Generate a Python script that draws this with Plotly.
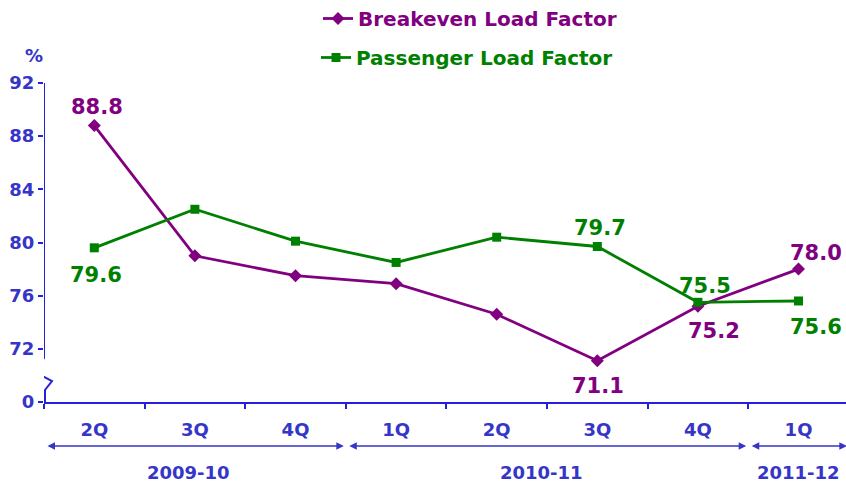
import plotly.graph_objects as go

# ---- data ----
quarters = ["2Q", "3Q", "4Q", "1Q", "2Q", "3Q", "4Q", "1Q"]
fiscal_years = ["2009-10", "2010-11", "2011-12"]
year_spans = [(0, 2), (3, 6), (7, 7)]  # first and last quarter index of each year
breakeven_lf = [88.8, 79.0, 77.5, 76.9, 74.6, 71.1, 75.2, 78.0]
passenger_lf = [79.6, 82.5, 80.1, 78.5, 80.4, 79.7, 75.5, 75.6]
y_tick_vals = [68, 72, 76, 80, 84, 88, 92]
y_tick_text = ["0", "72", "76", "80", "84", "88", "92"]

# labelled points: (index, xshift, yshift)
breakeven_labels = [(0, 3, 19), (5, 1, -25), (6, 16, -25), (7, 17, 16)]
passenger_labels = [(0, 2, -27), (5, 3, 18), (6, 7, 16), (7, 17, -26)]

PURPLE = "#800080"
GREEN = "#008000"
BLUE_TXT = "#3535C8"
BLUE_LINE = "#2222DD"
FONT = "DejaVu Sans"

PLOT_L, PLOT_T, PLOT_W, PLOT_H = 44, 83, 802, 319

x = list(range(len(quarters)))

fig = go.Figure()
fig.add_trace(go.Scatter(
    x=x, y=breakeven_lf, mode="lines+markers", name="Breakeven Load Factor",
    line=dict(color=PURPLE, width=2.8),
    marker=dict(symbol="diamond", size=10, color=PURPLE),
    legend="legend", cliponaxis=False))
fig.add_trace(go.Scatter(
    x=x, y=passenger_lf, mode="lines+markers", name="Passenger Load Factor",
    line=dict(color=GREEN, width=2.8),
    marker=dict(symbol="square", size=9, color=GREEN),
    legend="legend2", cliponaxis=False))

annotations = []
for series, labels, color in [(breakeven_lf, breakeven_labels, PURPLE),
                              (passenger_lf, passenger_labels, GREEN)]:
    for i, dx, dy in labels:
        annotations.append(dict(
            x=x[i], y=series[i], xref="x", yref="y", text=f"{series[i]:.1f}",
            showarrow=False, xshift=dx, yshift=dy,
            font=dict(family=FONT, size=21, color=color, weight="bold")))

# fiscal-year arrows and labels
for name, (a, b) in zip(fiscal_years, year_spans):
    x0 = a - 0.5 + 0.02
    x1 = b + 0.5 - 0.02
    annotations.append(dict(
        x=x1, y=-0.138, xref="x", yref="paper", ax=x0, ay=0, axref="x", ayref="pixel",
        text="", showarrow=True, arrowhead=2, startarrowhead=2, arrowside="end+start",
        arrowsize=1, arrowwidth=1.5, arrowcolor=BLUE_TXT, standoff=0, startstandoff=0))
    annotations.append(dict(
        x=(a + b) / 2, y=-0.261, xref="x", yref="paper", text=name, showarrow=False,
        xshift=-6 if b > a else 0,
        font=dict(family=FONT, size=18, color=BLUE_TXT, weight="bold")))

annotations.append(dict(
    x=-10 / PLOT_W, y=(402 - 55) / PLOT_H, xref="paper", yref="paper", text="%",
    xanchor="center", yanchor="middle",
    showarrow=False, font=dict(family=FONT, size=18, color=BLUE_TXT, weight="bold")))

fig.update_layout(
    width=846, height=487,
    margin=dict(l=PLOT_L, r=0, t=PLOT_T, b=85, autoexpand=False),
    paper_bgcolor="white", plot_bgcolor="white",
    font=dict(family=FONT, size=18, color=BLUE_TXT, weight="bold"),
    xaxis=dict(
        range=[-0.5, 7.472], tickmode="array", tickvals=x, ticktext=quarters,
        ticks="", showgrid=False, zeroline=False, showline=True, automargin=False,
        linecolor=BLUE_LINE, linewidth=2, ticklabelstandoff=10, tickangle=0,
        tickfont=dict(family=FONT, size=18, color=BLUE_TXT, weight="bold"),
        minor=dict(tickmode="array", tickvals=[i - 0.5 for i in x], ticks="outside",
                   ticklen=5, tickwidth=2, tickcolor=BLUE_LINE, showgrid=False)),
    yaxis=dict(
        range=[68, 92], tickmode="array", tickvals=y_tick_vals, ticktext=y_tick_text,
        ticks="outside", ticklen=5, tickwidth=2, tickcolor=BLUE_LINE, automargin=False,
        showgrid=False, zeroline=False, showline=False,
        tickfont=dict(family=FONT, size=18, color=BLUE_TXT, weight="bold")),
    legend=dict(x=(318 - PLOT_L) / PLOT_W, y=(402 + 1) / PLOT_H,
                xanchor="left", yanchor="top", bgcolor="rgba(0,0,0,0)", itemwidth=30,
                font=dict(family=FONT, size=20, color=PURPLE, weight="bold")),
    legend2=dict(x=(316 - PLOT_L) / PLOT_W, y=(402 - 38) / PLOT_H,
                 xanchor="left", yanchor="top", bgcolor="rgba(0,0,0,0)", itemwidth=30,
                 font=dict(family=FONT, size=20, color=GREEN, weight="bold")),
    showlegend=True,
    annotations=annotations,
    shapes=[dict(
        type="path", xref="x", yref="y", xsizemode="pixel", ysizemode="pixel",
        xanchor=-0.5, yanchor=68,
        path="M 0,319 L 0,44 L -9,30 L 8,21 L 1,12 L 1,0",
        line=dict(color=BLUE_LINE, width=2))],
)

fig.write_html("out.html", config={"displayModeBar": False},
               post_script="document.body.style.margin='0';")
